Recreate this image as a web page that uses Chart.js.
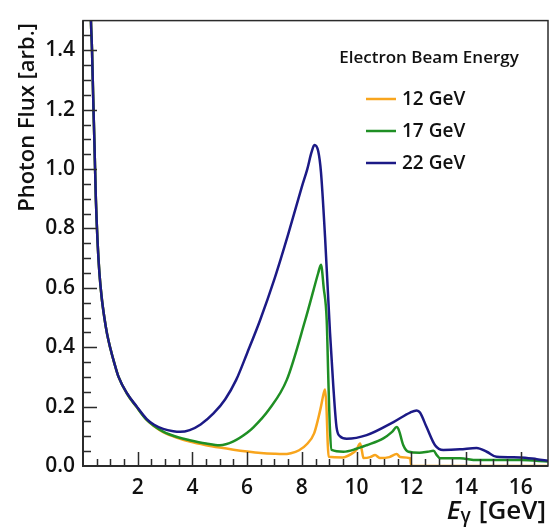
<!DOCTYPE html>
<html>
<head>
<meta charset="utf-8">
<script src="https://cdn.jsdelivr.net/npm/chart.js@4"></script>
<style>
  html, body { margin: 0; padding: 0; background: #fff; }
  #wrap { width: 557px; height: 528px; }
</style>
</head>
<body>
<div id="wrap"><canvas id="fluxChart" width="557" height="528"></canvas></div>
<script>
// beam energies shown in the legend
const beamLabels = ["12 GeV", "17 GeV", "22 GeV"];

// photon energy [GeV] and flux [arb.], one pair per beam
const e12 = [0.26, 0.29, 0.33, 0.37, 0.42, 0.47, 0.53, 0.6, 0.68, 0.78, 0.88, 0.99, 1.15, 1.3, 1.6, 1.95, 2.33, 2.6, 2.93, 3.5, 3.9, 4.5, 5.0, 5.5, 6.0, 6.5, 7.0, 7.3, 7.6, 7.9, 8.2, 8.45, 8.6, 8.7, 8.8, 8.85, 8.9, 8.95, 8.98, 9.5, 9.8, 10.0, 10.13, 10.2, 10.25, 10.5, 10.68, 10.85, 11.2, 11.47, 11.6, 11.96, 12.0, 17.0];
const flux12 = [1.62, 1.5, 1.4, 1.25, 1.08, 0.9, 0.76, 0.65, 0.57, 0.5, 0.445, 0.4, 0.345, 0.3, 0.245, 0.2, 0.155, 0.134, 0.114, 0.093, 0.082, 0.07, 0.062, 0.055, 0.049, 0.044, 0.041, 0.04, 0.043, 0.053, 0.075, 0.11, 0.16, 0.2, 0.245, 0.258, 0.2, 0.07, 0.031, 0.029, 0.04, 0.055, 0.076, 0.05, 0.027, 0.03, 0.037, 0.027, 0.03, 0.04, 0.03, 0.026, 0.0, 0.0];

const e17 = [0.26, 0.29, 0.33, 0.37, 0.42, 0.47, 0.53, 0.6, 0.68, 0.78, 0.88, 0.99, 1.15, 1.3, 1.6, 1.95, 2.33, 2.6, 2.93, 3.5, 3.9, 4.5, 5.0, 5.5, 6.0, 6.23, 6.8, 7.45, 8.12, 8.42, 8.6, 8.7, 8.8, 8.91, 8.97, 9.03, 9.09, 9.52, 10.0, 10.37, 10.98, 11.3, 11.47, 11.55, 11.71, 11.9, 12.3, 12.6, 12.81, 12.95, 13.05, 13.78, 14.4, 16.0, 17.0];
const flux17 = [1.62, 1.5, 1.4, 1.25, 1.08, 0.9, 0.76, 0.65, 0.57, 0.5, 0.445, 0.4, 0.345, 0.3, 0.245, 0.2, 0.155, 0.135, 0.116, 0.096, 0.087, 0.076, 0.07, 0.083, 0.112, 0.13, 0.19, 0.29, 0.49, 0.59, 0.65, 0.678, 0.6, 0.49, 0.29, 0.12, 0.054, 0.048, 0.058, 0.07, 0.093, 0.115, 0.131, 0.12, 0.07, 0.048, 0.045, 0.048, 0.051, 0.035, 0.026, 0.026, 0.02, 0.02, 0.015];

const e22 = [0.26, 0.29, 0.33, 0.37, 0.42, 0.47, 0.53, 0.6, 0.68, 0.78, 0.88, 0.99, 1.15, 1.3, 1.6, 1.95, 2.33, 2.6, 2.93, 3.3, 3.55, 3.9, 4.3, 4.77, 5.2, 5.6, 6.0, 6.47, 7.0, 7.5, 8.0, 8.2, 8.35, 8.46, 8.6, 8.7, 8.85, 9.03, 9.15, 9.27, 9.4, 9.64, 10.37, 11.35, 11.96, 12.2, 12.32, 12.56, 12.87, 13.17, 13.78, 14.39, 14.76, 15.12, 15.98, 16.59, 17.0];
const flux22 = [1.62, 1.5, 1.4, 1.25, 1.08, 0.9, 0.76, 0.65, 0.57, 0.5, 0.445, 0.4, 0.345, 0.3, 0.246, 0.202, 0.158, 0.139, 0.125, 0.117, 0.115, 0.121, 0.14, 0.177, 0.225, 0.29, 0.38, 0.49, 0.63, 0.78, 0.94, 1.0, 1.055, 1.081, 1.06, 0.99, 0.77, 0.45, 0.27, 0.13, 0.1, 0.092, 0.104, 0.148, 0.18, 0.187, 0.18, 0.131, 0.07, 0.054, 0.056, 0.061, 0.048, 0.031, 0.029, 0.023, 0.018];

// labelled ticks
const xTickValues = [2, 4, 6, 8, 10, 12, 14, 16];
const yTickValues = [0, 0.2, 0.4, 0.6, 0.8, 1.0, 1.2, 1.4];

const lineColors = ["#f8a51d", "#1f8f24", "#1c1a86"];
const FONT = '"Open Sans", "DejaVu Sans", sans-serif';

function toPoints(xs, ys) {
  return xs.map((x, i) => ({ x: x, y: ys[i] }));
}

// frame, inward ticks, axis titles and legend, drawn on top of the curves
const framePlugin = {
  id: "frame",
  afterDatasetsDraw(chart) {
    const { ctx, chartArea: a, scales } = chart;
    const xs = scales.x, ys = scales.y;
    ctx.save();
    ctx.strokeStyle = "#2b2b2b";
    ctx.lineWidth = 1.5;
    ctx.strokeRect(a.left, a.top, a.right - a.left, a.bottom - a.top);

    ctx.lineWidth = 2;
    ctx.beginPath();
    ctx.moveTo(a.left, a.top);
    ctx.lineTo(a.left, a.bottom);
    ctx.lineTo(a.right, a.bottom);
    ctx.stroke();

    ctx.lineWidth = 1.5;
    ctx.beginPath();
    for (let i = 1; i * 0.5 < 17; i++) {
      const v = i * 0.5;
      const px = Math.round(xs.getPixelForValue(v)) + 0.5;
      const len = i % 4 === 0 ? 14 : 7;
      ctx.moveTo(px, a.bottom);
      ctx.lineTo(px, a.bottom - len);
    }
    for (let i = 1; i * 0.05 < 1.5 - 1e-9; i++) {
      const v = i * 0.05;
      const py = Math.round(ys.getPixelForValue(v)) + 0.5;
      const len = i % 4 === 0 ? 14 : 8;
      ctx.moveTo(a.left, py);
      ctx.lineTo(a.left + len, py);
    }
    ctx.stroke();
    ctx.restore();
  },
  afterDraw(chart) {
    const { ctx } = chart;
    ctx.save();
    ctx.fillStyle = "#111";

    // y title, aligned to the top of the axis
    ctx.save();
    ctx.translate(28, 23);
    ctx.rotate(-Math.PI / 2);
    ctx.font = "600 22px " + FONT;
    ctx.textAlign = "right";
    ctx.textBaseline = "middle";
    ctx.fillText("Photon Flux [arb.]", 0, 0, 196);
    ctx.restore();

    // x title  E_γ [GeV]
    const base = 519;
    ctx.textBaseline = "alphabetic";
    ctx.textAlign = "left";
    ctx.font = "600 26px " + FONT;
    const unit = "[GeV]";
    const wUnit = ctx.measureText(unit).width;
    ctx.font = "italic 600 26px " + FONT;
    const wE = ctx.measureText("E").width;
    ctx.font = "600 19px " + FONT;
    const wG = ctx.measureText("γ").width;
    const gap = 8;
    let x = 546 - wUnit - gap - wG - wE;
    ctx.font = "italic 600 26px " + FONT;
    ctx.fillText("E", x, base);
    x += wE;
    ctx.font = "600 19px " + FONT;
    ctx.fillText("γ", x, base + 3);
    x += wG + gap;
    ctx.font = "600 26px " + FONT;
    ctx.fillText(unit, x, base);

    // legend
    ctx.font = "600 17px " + FONT;
    ctx.textAlign = "center";
    ctx.textBaseline = "middle";
    ctx.fillText("Electron Beam Energy", 429, 58, 184);
    ctx.textAlign = "left";
    ctx.font = "600 19px " + FONT;
    chart.data.datasets.forEach((ds, i) => {
      const y = 99 + 32 * i;
      ctx.strokeStyle = ds.borderColor;
      ctx.lineWidth = 2.5;
      ctx.beginPath();
      ctx.moveTo(366, y);
      ctx.lineTo(396, y);
      ctx.stroke();
      ctx.fillStyle = "#111";
      ctx.fillText(ds.label, 402, y + 1);
    });
    ctx.restore();
  },
};

const seriesX = [e12, e17, e22];
const seriesY = [flux12, flux17, flux22];

const ctx = document.getElementById("fluxChart").getContext("2d");
new Chart(ctx, {
  type: "line",
  data: {
    datasets: beamLabels.map((label, i) => ({
      label: label,
      data: toPoints(seriesX[i], seriesY[i]),
      borderColor: lineColors[i],
      borderWidth: 2.5,
      pointRadius: 0,
      fill: false,
      cubicInterpolationMode: "monotone",
      order: 3 - i,
    })),
  },
  options: {
    responsive: false,
    animation: false,
    devicePixelRatio: 1,
    layout: { padding: { left: 0, top: 17, right: 9, bottom: 0 } },
    plugins: {
      legend: { display: false },
      tooltip: { enabled: false },
    },
    scales: {
      x: {
        type: "linear",
        min: 0,
        max: 17,
        afterBuildTicks: (s) => { s.ticks = xTickValues.map((v) => ({ value: v })); },
        afterFit: (s) => { s.height = 62; },
        grid: { display: false, drawTicks: false },
        border: { display: false },
        ticks: {
          color: "#111",
          padding: 9,
          maxRotation: 0,
          autoSkip: false,
          font: { family: FONT, size: 21, weight: "600" },
        },
      },
      y: {
        type: "linear",
        min: 0,
        max: 1.5,
        afterBuildTicks: (s) => { s.ticks = yTickValues.map((v) => ({ value: v })); },
        afterFit: (s) => { s.width = 83; },
        grid: { display: false, drawTicks: false },
        border: { display: false },
        ticks: {
          color: "#111",
          padding: 8,
          autoSkip: false,
          font: { family: FONT, size: 21, weight: "600" },
          callback: (v) => Number(v).toFixed(1),
        },
      },
    },
  },
  plugins: [framePlugin],
});
</script>
</body>
</html>
